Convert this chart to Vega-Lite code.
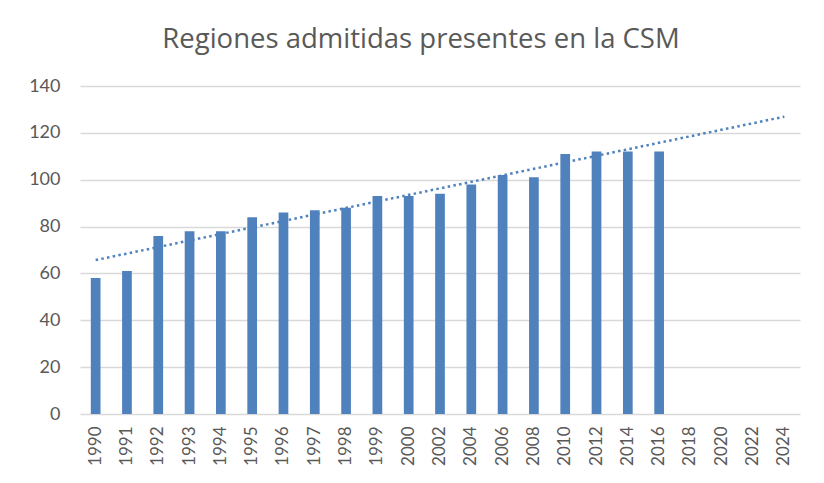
{
  "$schema": "https://vega.github.io/schema/vega-lite/v6.json",
  "width": 720,
  "height": 328,
  "autosize": {"type": "none"},
  "padding": {"left": 80, "top": 86, "right": 24, "bottom": 69},
  "background": "white",
  "title": {
    "text": "Regiones admitidas presentes en la CSM",
    "font": "Open Sans",
    "fontSize": 27.5,
    "fontWeight": "normal",
    "color": "#595959",
    "anchor": "middle",
    "dx": -19,
    "offset": 24
  },
  "datasets": {
    "bars": [
      {"year": "1990", "value": 58},
      {"year": "1991", "value": 61},
      {"year": "1992", "value": 76},
      {"year": "1993", "value": 78},
      {"year": "1994", "value": 78},
      {"year": "1995", "value": 84},
      {"year": "1996", "value": 86},
      {"year": "1997", "value": 87},
      {"year": "1998", "value": 88},
      {"year": "1999", "value": 93},
      {"year": "2000", "value": 93},
      {"year": "2002", "value": 94},
      {"year": "2004", "value": 98},
      {"year": "2006", "value": 102},
      {"year": "2008", "value": 101},
      {"year": "2010", "value": 111},
      {"year": "2012", "value": 112},
      {"year": "2014", "value": 112},
      {"year": "2016", "value": 112}
    ],
    "trend": [
      {"year": "1990", "trend": 65.7},
      {"year": "2024", "trend": 126.9}
    ]
  },
  "layer": [
    {
      "data": {"name": "bars"},
      "mark": {"type": "bar", "color": "#4f81bd"},
      "encoding": {
        "x": {
          "field": "year",
          "type": "ordinal",
          "title": null,
          "scale": {
            "domain": ["1990","1991","1992","1993","1994","1995","1996","1997","1998","1999","2000","2002","2004","2006","2008","2010","2012","2014","2016","2018","2020","2022","2024"],
            "paddingInner": 0.69,
            "paddingOuter": 0.345
          },
          "axis": {
            "labelAngle": -90,
            "labelPadding": 12,
            "ticks": false,
            "domain": false,
            "grid": false,
            "labelFont": "Lato",
            "labelFontSize": 17,
            "labelColor": "#595959"
          }
        },
        "y": {
          "field": "value",
          "type": "quantitative",
          "title": null,
          "scale": {"domain": [0, 140]},
          "axis": {
            "values": [0, 20, 40, 60, 80, 100, 120, 140],
            "ticks": false,
            "domain": false,
            "grid": true,
            "gridColor": "#d9d9d9",
            "gridWidth": 1.3,
            "labelPadding": 20,
            "labelFont": "Lato",
            "labelFontSize": 18,
            "labelColor": "#595959"
          }
        }
      }
    },
    {
      "data": {"name": "trend"},
      "mark": {"type": "line", "color": "#4f81bd", "strokeWidth": 2.5, "strokeDash": [2.5, 3.3]},
      "encoding": {
        "x": {"field": "year", "type": "ordinal"},
        "y": {"field": "trend", "type": "quantitative"}
      }
    }
  ],
  "config": {"view": {"stroke": null}}
}
